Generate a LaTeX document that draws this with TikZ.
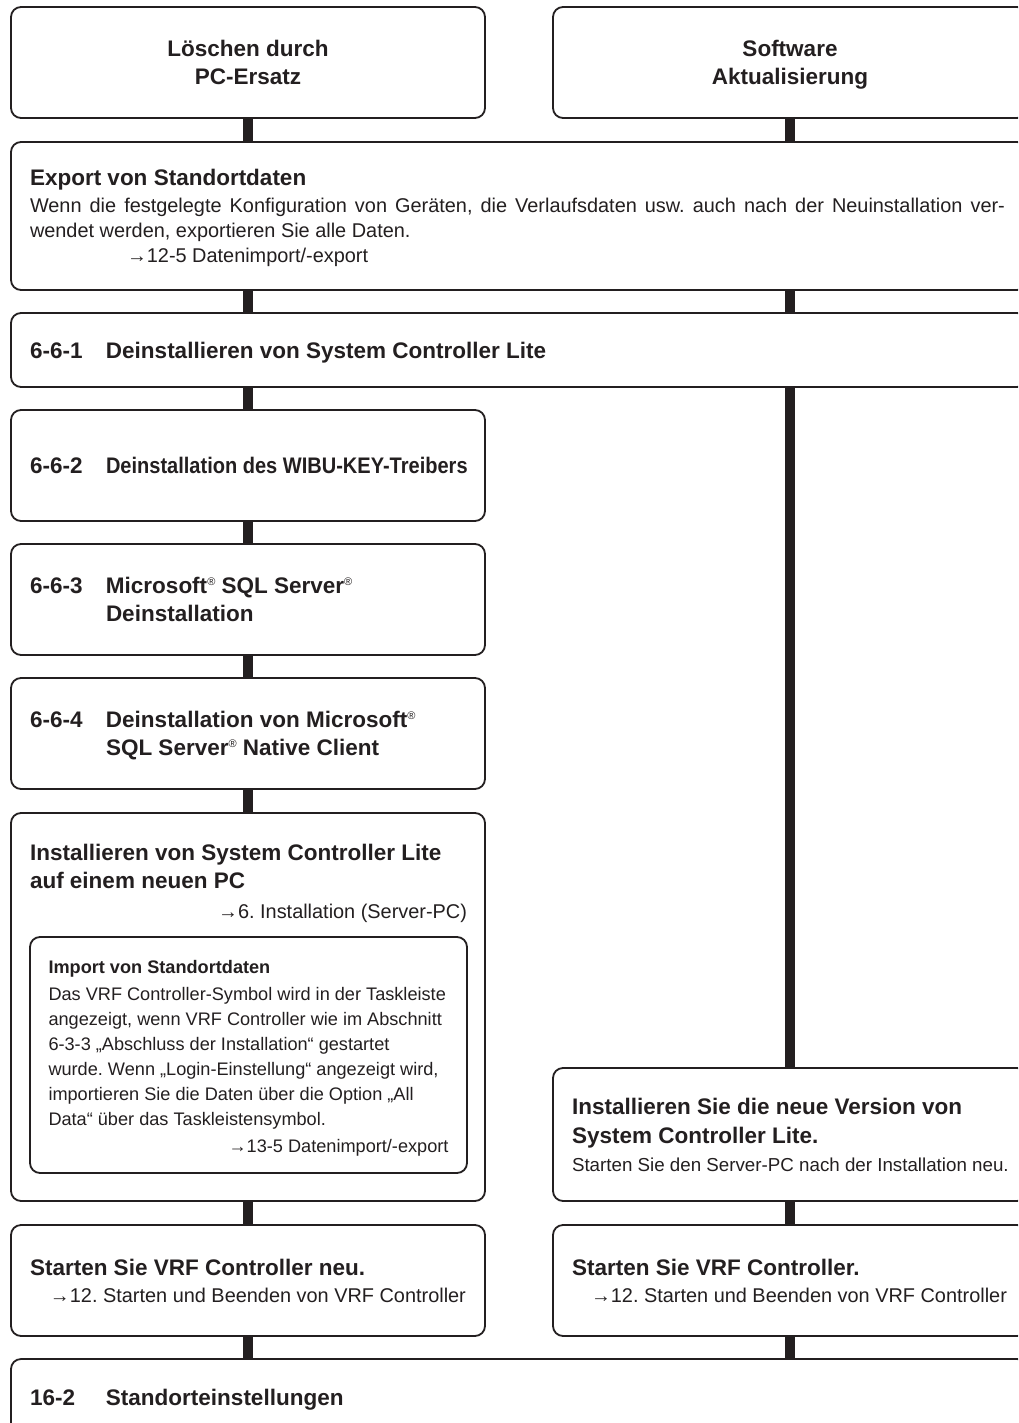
\documentclass[tikz,border=0pt]{standalone}
\usepackage{fontspec}
\setmainfont{Liberation Sans}
\usepackage{graphicx}
\definecolor{ink}{HTML}{231F20}
\newcommand{\hd}{\bfseries\fontsize{22.5}{25}\selectfont}
\newcommand{\bd}{\mdseries\fontsize{19.9}{25}\selectfont}
\newcommand{\sm}{\mdseries\fontsize{18.15}{25}\selectfont}
\newcommand{\regm}{\raisebox{8pt}{\mdseries\fontsize{11}{11}\selectfont ®}}
\newcommand{\tp}{\spaceskip=0pt\relax\xspaceskip=0pt\relax\rule{0pt}{24pt}}
\newcommand{\bt}{\rule[-8pt]{0pt}{8pt}}
\tikzset{
  box/.style={draw=ink, line width=1.8pt, rounded corners=10pt, fill=white,
    text=ink, inner sep=0pt, outer sep=0pt, anchor=north west,
    execute at begin node=\frenchspacing},
  bar/.style={draw=ink, line width=10.5pt},
  txt/.style={text=ink, inner sep=0pt, outer sep=0pt, anchor=north west, align=left,
    execute at begin node=\frenchspacing},
}
\begin{document}
\begin{tikzpicture}[x=1pt,y=-1pt]
\useasboundingbox (0,0) rectangle (1018,1423);
\clip (0,0) rectangle (1018,1423);

% top row
\node[box, minimum width=474pt, minimum height=111pt, text width=436pt, align=center, font=\hd]
  (A) at (11,7) {\tp\mbox{Löschen durch}\\[3pt]\mbox{PC-Ersatz}\bt};
\node[box, minimum width=474pt, minimum height=111pt, text width=436pt, align=center, font=\hd]
  (B) at (553,7) {\tp\mbox{Software}\\[3pt]\mbox{Aktualisierung}\bt};

% export
\node[box, minimum width=1016pt, minimum height=148pt, text width=978pt, align=left, font=\bd]
  (C) at (11,142) {\tp{\hd\mbox{Export von Standortdaten}}\\[2pt]%
  \makebox[975pt][s]{Wenn die festgelegte Konfiguration von Geräten, die Verlaufsdaten usw. auch nach der Neuinstallation ver-}\\
  \mbox{wendet werden, exportieren Sie alle Daten.}\\
  \hspace*{97pt}\mbox{→12-5 Datenimport/-export}\bt};

% 6-6-1
\node[box, minimum width=1016pt, minimum height=74pt, text width=978pt, align=left, font=\hd]
  (D) at (11,313) {\tp\makebox[76pt][l]{6-6-1}\mbox{Deinstallieren von System Controller Lite}\bt};

% 6-6-2 .. 6-6-4
\node[box, minimum width=474pt, minimum height=111pt, text width=436pt, align=left, font=\hd]
  (E) at (11,410) {\tp\makebox[76pt][l]{6-6-2}\scalebox{0.89}[1]{Deinstallation des WIBU-KEY-Treibers}\bt};
\node[box, minimum width=474pt, minimum height=111pt, text width=436pt, align=left, font=\hd]
  (F) at (11,544) {\tp\makebox[76pt][l]{6-6-3}\mbox{Microsoft\regm{} SQL Server\regm}\\[3pt]\hspace*{76pt}\mbox{Deinstallation}\bt};
\node[box, minimum width=474pt, minimum height=111pt, text width=436pt, align=left, font=\hd]
  (G) at (11,678) {\tp\makebox[76pt][l]{6-6-4}\mbox{Deinstallation von Microsoft\regm}\\[3pt]\hspace*{76pt}\mbox{SQL Server\regm{} Native Client}\bt};

% install on new PC
\node[box, minimum width=474pt, minimum height=388pt] (H) at (11,813) {};
\node[txt, text width=437pt, font=\bd] (Ht) at (30,836)
  {\tp{\hd\mbox{Installieren von System Controller Lite}}\\[3pt]{\hd\mbox{auf einem neuen PC}}\\[5pt]%
   \hspace*{0pt plus 1filll}\mbox{→6. Installation (Server-PC)}};
\node[box, minimum width=437pt, minimum height=236pt, text width=400pt, align=left, font=\sm]
  (I) at (30,937) {\tp{\bfseries\mbox{Import von Standortdaten}}\\[1.7pt]%
  \mbox{Das VRF Controller-Symbol wird in der Taskleiste}\\
  \mbox{angezeigt, wenn VRF Controller wie im Abschnitt}\\
  \mbox{6-3-3 „Abschluss der Installation“ gestartet}\\
  \mbox{wurde. Wenn „Login-Einstellung“ angezeigt wird,}\\
  \mbox{importieren Sie die Daten über die Option „All}\\
  \mbox{Data“ über das Taskleistensymbol.}\\[1.7pt]%
  \hspace*{0pt plus 1filll}\mbox{→13-5 Datenimport/-export}\bt};

% right: install new version
\node[box, minimum width=474pt, minimum height=133pt, text width=436pt, align=left, font=\hd]
  (J) at (553,1068) {\tp\mbox{Installieren Sie die neue Version von}\\[4pt]\mbox{System Controller Lite.}\\[3pt]%
  {\mdseries\fontsize{18.75}{25}\selectfont\mbox{Starten Sie den Server-PC nach der Installation neu.}}\bt};

% restart
\node[box, minimum width=474pt, minimum height=111pt, text width=436pt, align=left, font=\bd]
  (K) at (11,1225) {\tp{\hd\mbox{Starten Sie VRF Controller neu.}}\\[2pt]%
  \hspace*{20pt}\mbox{→12. Starten und Beenden von VRF Controller}\bt};
\node[box, minimum width=474pt, minimum height=111pt, text width=436pt, align=left, font=\bd]
  (L) at (553,1225) {\tp{\hd\mbox{Starten Sie VRF Controller.}}\\[2pt]%
  \hspace*{19pt}\mbox{→12. Starten und Beenden von VRF Controller}\bt};

% site settings
\node[box, minimum width=1016pt, minimum height=76pt, text width=978pt, align=left, font=\hd]
  (M) at (11,1359) {\tp\makebox[76pt][l]{16-2}\mbox{Standorteinstellungen}\bt};

% connectors
\draw[bar] (A.south) -- (A.south |- C.north);
\draw[bar] (B.south) -- (B.south |- C.north);
\draw[bar] (A.south |- C.south) -- (A.south |- D.north);
\draw[bar] (B.south |- C.south) -- (B.south |- D.north);
\draw[bar] (E.north |- D.south) -- (E.north);
\draw[bar] (J.north |- D.south) -- (J.north);
\draw[bar] (E.south) -- (F.north);
\draw[bar] (F.south) -- (G.north);
\draw[bar] (G.south) -- (H.north);
\draw[bar] (H.south) -- (K.north);
\draw[bar] (J.south) -- (L.north);
\draw[bar] (K.south) -- (K.south |- M.north);
\draw[bar] (L.south) -- (L.south |- M.north);
\end{tikzpicture}
\end{document}
